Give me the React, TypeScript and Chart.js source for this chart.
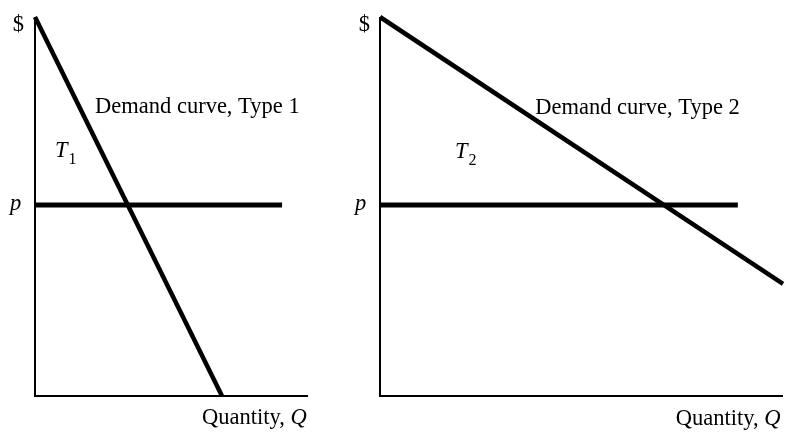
import React, { useEffect, useRef } from "react";
import { Chart, registerables } from "chart.js";

Chart.register(...registerables);

// Data (arbitrary units, 0..10 on each axis)
const axisPoints = [
  { x: 0, y: 10 },
  { x: 0, y: 0 },
  { x: 10, y: 0 },
];
const demand1 = [
  { x: 0, y: 10 },
  { x: 6.85, y: 0 },
];
const priceLine1 = [
  { x: 0, y: 5.04 },
  { x: 9.05, y: 5.04 },
];
const demand2 = [
  { x: 0, y: 10 },
  { x: 10, y: 2.96 },
];
const priceLine2 = [
  { x: 0, y: 5.04 },
  { x: 8.88, y: 5.04 },
];

type Seg = { t: string; it?: boolean; sub?: boolean };
type Label = { x: number; y: number; segs: Seg[]; align?: "left" | "right" };

const labels1: Label[] = [
  { x: -0.4, y: 9.63, segs: [{ t: "$" }], align: "right" },
  { x: -0.92, y: 4.91, segs: [{ t: "p", it: true }] },
  { x: 2.2, y: 7.47, segs: [{ t: "Demand curve, Type 1" }] },
  { x: 0.73, y: 6.31, segs: [{ t: "T", it: true }, { t: "1", sub: true }] },
  { x: 6.12, y: -0.74, segs: [{ t: "Quantity, " }, { t: "Q", it: true }] },
];
const labels2: Label[] = [
  { x: -0.25, y: 9.63, segs: [{ t: "$" }], align: "right" },
  { x: -0.62, y: 4.91, segs: [{ t: "p", it: true }] },
  { x: 3.85, y: 7.44, segs: [{ t: "Demand curve, Type 2" }] },
  { x: 1.86, y: 6.28, segs: [{ t: "T", it: true }, { t: "2", sub: true }] },
  { x: 7.34, y: -0.77, segs: [{ t: "Quantity, " }, { t: "Q", it: true }] },
];

const FONT = "'Liberation Serif', 'DejaVu Serif', serif";

function fontFor(s: Seg) {
  if (s.sub) return `16px ${FONT}`;
  return `${s.it ? "italic " : ""}22.5px ${FONT}`;
}

function makeLabelPlugin(list: Label[]) {
  return {
    id: "labels",
    afterDatasetsDraw(chart: any) {
      const ctx = chart.ctx as CanvasRenderingContext2D;
      const xs = chart.scales.x;
      const ys = chart.scales.y;
      ctx.save();
      ctx.fillStyle = "#000";
      ctx.textBaseline = "alphabetic";
      ctx.textAlign = "left";
      for (const l of list) {
        let px = xs.getPixelForValue(l.x);
        const py = ys.getPixelForValue(l.y);
        let total = 0;
        for (const s of l.segs) {
          ctx.font = fontFor(s);
          total += ctx.measureText(s.t).width;
        }
        if (l.align === "right") px -= total;
        for (const s of l.segs) {
          ctx.font = fontFor(s);
          ctx.fillText(s.t, px + (s.sub ? 1 : 0), py + (s.sub ? 7 : 0));
          px += ctx.measureText(s.t).width;
        }
      }
      ctx.restore();
    },
  };
}

function lineDs(data: { x: number; y: number }[], width: number) {
  return {
    data,
    borderColor: "#000",
    borderWidth: width,
    pointRadius: 0,
    showLine: true,
    fill: false,
    tension: 0,
    clip: false as any,
    borderCapStyle: "butt" as const,
  };
}

function makeConfig(
  demand: { x: number; y: number }[],
  price: { x: number; y: number }[],
  labels: Label[],
  padding: { left: number; right: number; top: number; bottom: number }
): any {
  return {
    type: "scatter",
    data: {
      datasets: [lineDs(axisPoints, 2), lineDs(price, 5), lineDs(demand, 4.5)],
    },
    options: {
      animation: false,
      responsive: false,
      devicePixelRatio: 1,
      layout: { padding },
      plugins: { legend: { display: false }, tooltip: { enabled: false } },
      scales: {
        x: { type: "linear", min: 0, max: 10, display: false },
        y: { type: "linear", min: 0, max: 10, display: false },
      },
    },
    plugins: [makeLabelPlugin(labels)],
  };
}

export default function App() {
  const c1 = useRef<HTMLCanvasElement>(null);
  const c2 = useRef<HTMLCanvasElement>(null);

  useEffect(() => {
    document.body.style.margin = "0";
    const ch1 = new Chart(
      c1.current!,
      makeConfig(demand1, priceLine1, labels1, { left: 35, right: 32, top: 17, bottom: 43 })
    );
    const ch2 = new Chart(
      c2.current!,
      makeConfig(demand2, priceLine2, labels2, { left: 40, right: 5, top: 17, bottom: 43 })
    );
    return () => {
      ch1.destroy();
      ch2.destroy();
    };
  }, []);

  return (
    <div style={{ position: "relative", width: 788, height: 439, background: "#fff" }}>
      <canvas
        ref={c1}
        width={340}
        height={439}
        style={{ position: "absolute", left: 0, top: 0, width: 340, height: 439 }}
      />
      <canvas
        ref={c2}
        width={448}
        height={439}
        style={{ position: "absolute", left: 340, top: 0, width: 448, height: 439 }}
      />
    </div>
  );
}
